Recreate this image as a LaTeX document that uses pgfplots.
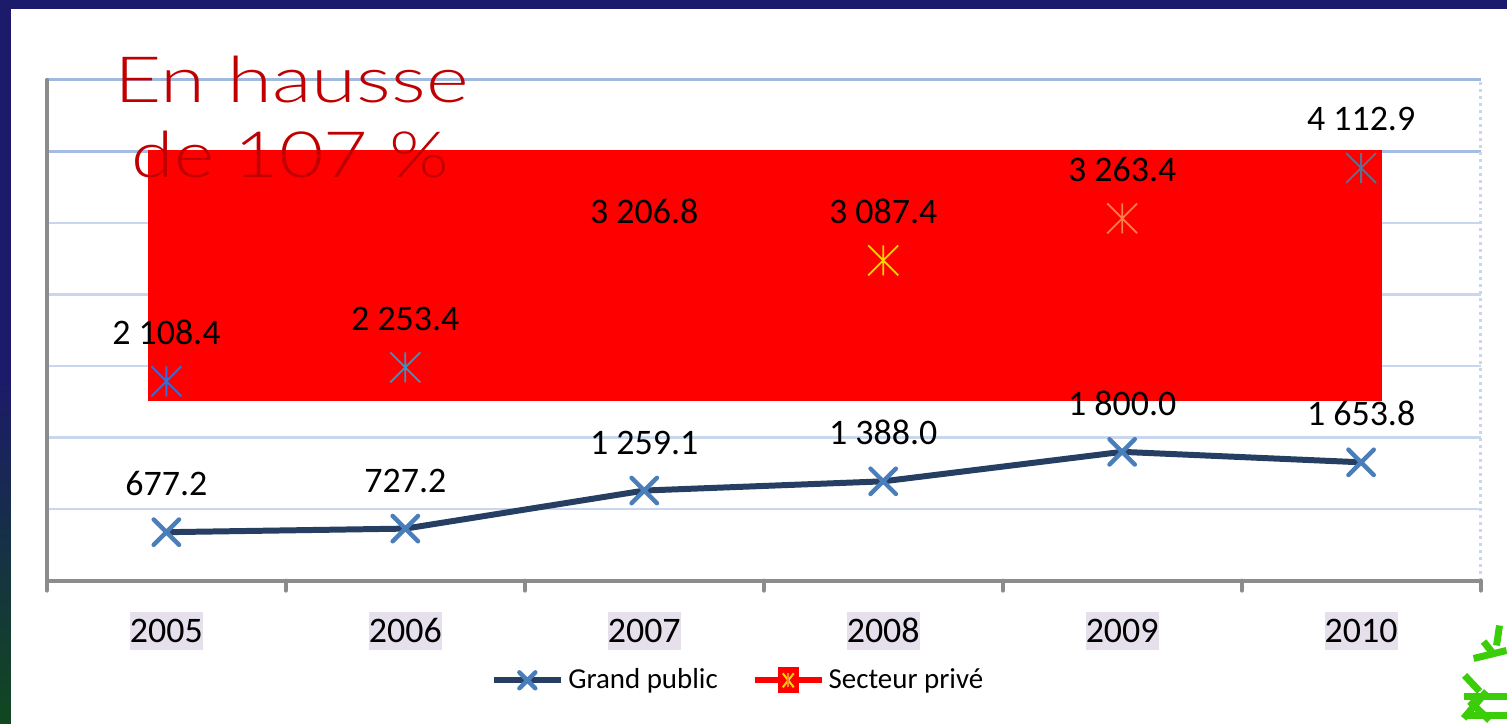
\documentclass[border=0pt]{standalone}
\usepackage{fontspec}
\setmainfont{Carlito}
\newfontfamily\titlefont{Lato Light}
\usepackage{pgfplots}
\pgfplotsset{compat=1.18}
\usepackage{pgfplotstable}
\definecolor{navyb}{RGB}{28,26,106}
\definecolor{greenb}{RGB}{16,72,32}
\definecolor{gpline}{RGB}{38,62,98}
\definecolor{gpmark}{RGB}{74,126,187}
\definecolor{gridc}{RGB}{200,214,238}
\definecolor{gridtop}{RGB}{160,185,225}
\definecolor{spine}{RGB}{140,140,140}
\definecolor{lav}{RGB}{229,224,236}
\definecolor{titlered}{RGB}{192,0,0}
\definecolor{ca}{RGB}{47,111,223}
\definecolor{cb}{RGB}{42,154,202}
\definecolor{cc}{RGB}{255,0,0}
\definecolor{cd}{RGB}{255,210,0}
\definecolor{ce}{RGB}{247,130,70}
\definecolor{cf}{RGB}{96,112,143}
\definecolor{leafg}{RGB}{60,205,10}

\pgfdeclareplotmark{astx}{%
  \pgfpathmoveto{\pgfqpoint{0pt}{-\pgfplotmarksize}}%
  \pgfpathlineto{\pgfqpoint{0pt}{\pgfplotmarksize}}%
  \pgfpathmoveto{\pgfqpoint{-\pgfplotmarksize}{-\pgfplotmarksize}}%
  \pgfpathlineto{\pgfqpoint{\pgfplotmarksize}{\pgfplotmarksize}}%
  \pgfpathmoveto{\pgfqpoint{-\pgfplotmarksize}{\pgfplotmarksize}}%
  \pgfpathlineto{\pgfqpoint{\pgfplotmarksize}{-\pgfplotmarksize}}%
  \pgfusepathqstroke}

\pgfplotstableread{
x gp sp cls
0 677.2 2108.4 a
1 727.2 2253.4 b
2 1259.1 3206.8 c
3 1388.0 3087.4 d
4 1800.0 3263.4 e
5 1653.8 4112.9 f
}\datatable

\begin{document}
\begin{tikzpicture}[x=0.5pt,y=0.5pt]
\fill[white] (0,0) rectangle (1510,725);
\fill[navyb] (0,716) rectangle (1510,725);
\fill[navyb] (0,350) rectangle (11,725);
\shade[top color=navyb, bottom color=greenb] (0,0) rectangle (11,350.5);
\begin{axis}[
  at={(23.5pt,71.5pt)}, anchor=south west,
  scale only axis, width=718.5pt, height=251pt,
  xmin=-0.5, xmax=5.5, ymin=0, ymax=7000,
  axis line style={draw=none},
  xtick={0,...,5},
  xticklabels={2005,2006,2007,2008,2009,2010},
  major tick length=0pt,
  ytick={1000,2000,...,7000},
  yticklabels={},
  ymajorgrids,
  grid style={gridc, line width=1.2pt},
  xticklabel style={font=\fontsize{18pt}{21pt}\selectfont, fill=lav, inner xsep=0pt, inner ysep=0pt, text height=15.5pt, text depth=3.5pt, yshift=-15.5pt},
  clip=false,
  legend style={at={(axis description cs:0.483,-0.199)}, anchor=center, draw=none, fill=none,
    legend columns=2, font=\fontsize{14.5pt}{17pt}\selectfont,
    /tikz/every even column/.append style={column sep=15pt}},
  legend cell align=left,
  every node near coord/.append style={black, font=\fontsize{18pt}{21pt}\selectfont, anchor=south, inner sep=0pt, yshift=17pt},
]
\draw[gridtop, line width=1.4pt] (rel axis cs:0,1) -- (rel axis cs:1,1);
\draw[gridtop!85!gridc, line width=1.3pt] (axis cs:-0.5,6000) -- (axis cs:5.5,6000);
\addplot[fill=red, draw=none, forget plot] coordinates {(-0.078,2510) (5.087,2510) (5.087,6024) (-0.078,6024)} -- cycle;
\draw[spine, line width=2pt, line cap=round] (rel axis cs:0,1) -- (rel axis cs:0,0) -- (rel axis cs:1,0);
\draw[gridc, dotted, line width=1.5pt] (rel axis cs:1,0) -- (rel axis cs:1,1);
\pgfplotsinvokeforeach{-0.5,0.5,1.5,2.5,3.5,4.5,5.5}{
  \draw[spine, line width=2pt, line cap=round] (axis cs:#1,0) -- ++(0pt,-5pt);
}
\addplot[gpline, line width=3pt, mark=x, mark size=9pt,
  mark options={gpmark, line width=2.2pt, line cap=round},
  nodes near coords={\pgfmathprintnumber[fixed,fixed zerofill,precision=1,1000 sep={\ },assume math mode=true]{\pgfplotspointmeta}},
  legend image code/.code={
    \draw[gpline, line width=3pt] (0pt,0pt) -- (33.5pt,0pt);
    \draw[gpmark, line width=2.2pt, line cap=round] (12.5pt,-4pt) -- (20.5pt,4pt) (12.5pt,4pt) -- (20.5pt,-4pt);
  }]
  table[x=x, y=gp] {\datatable};
\addlegendentry{Grand public}
\addplot[draw=red, line width=3pt, mark=none,
  visualization depends on={\thisrow{sp}\as\spval},
  nodes near coords={\pgfmathprintnumber[fixed,fixed zerofill,precision=1,1000 sep={\ },assume math mode=true]{\spval}},
  legend image code/.code={
    \draw[red, line width=3pt] (0pt,0pt) -- (33.5pt,0pt);
    \fill[red] (13pt,-5pt) rectangle (20.5pt,5pt);
    \draw[cd, line width=1pt] (14pt,-3.5pt) -- (19.5pt,3.5pt) (14pt,3.5pt) -- (19.5pt,-3.5pt);
    \draw[ce, line width=1pt] (16.75pt,-3.5pt) -- (16.75pt,3.5pt);
  }]
  table[x=x, y expr=\thisrow{gp}+\thisrow{sp}] {\datatable};
\addlegendentry{Secteur privé}
\addplot[scatter, only marks, mark=astx, mark size=7.5pt, forget plot,
  point meta=explicit symbolic,
  scatter/classes={a={mark=astx,draw=ca}, b={mark=astx,draw=cb}, c={mark=astx,draw=cc}, d={mark=astx,draw=cd}, e={mark=astx,draw=ce}, f={mark=astx,draw=cf}},
  mark options={line width=0.9pt, solid}]
  table[x=x, y expr=\thisrow{gp}+\thisrow{sp}, meta=cls] {\datatable};
\end{axis}
\node[font=\titlefont\fontsize{32pt}{38pt}\selectfont, text=titlered, anchor=base] at (292,622) {\scalebox{1.28}[1]{En hausse}};
\node[font=\titlefont\fontsize{32pt}{38pt}\selectfont, text=titlered, anchor=base] at (291,547) {\scalebox{1.2}[1]{de 107 \%}};
\begin{scope}[leafg, line width=3.5pt]
\draw (1503,98)--(1500,78);
\draw (1487,82)--(1498,68);
\draw (1477,65)--(1510,73);
\draw (1468,48)--(1483,32);
\draw (1467,27)--(1510,27);
\draw (1467,5)--(1490,32);
\draw (1473,22)--(1493,3);
\draw (1467,8)--(1510,8);
\end{scope}
\end{tikzpicture}
\end{document}
